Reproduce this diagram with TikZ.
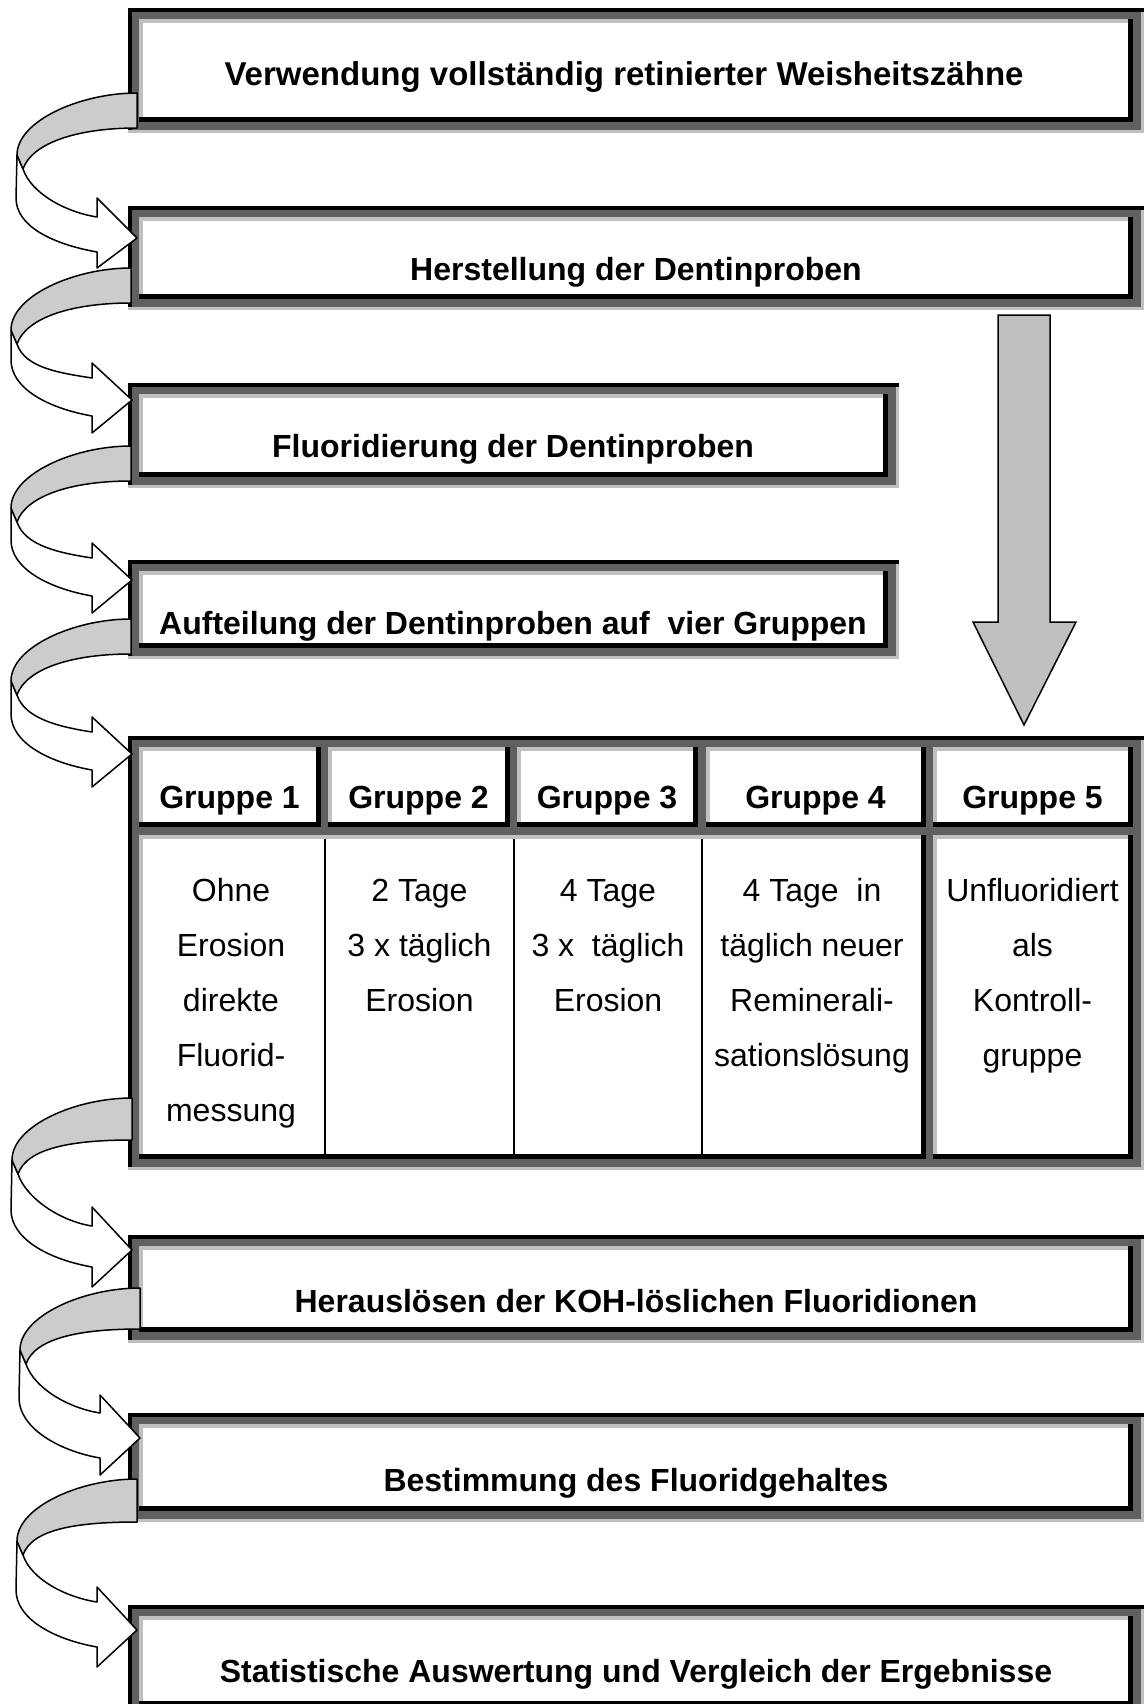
\documentclass[tikz,border=0pt]{standalone}
\usepackage{fontspec}
\setmainfont{Liberation Sans}
\usetikzlibrary{calc}
\definecolor{dg}{HTML}{606060}
\definecolor{lg}{HTML}{C0C0C0}
\definecolor{bandg}{HTML}{CCCCCC}
\definecolor{bigg}{HTML}{C0C0C0}
% 3D cell: light gray top/left, black bottom/right, white inside
\newcommand\tdcell[2]{%
  \fill[black] (#1) rectangle (#2);
  \fill[lg] (#1) rectangle ($(#2)+(-5,-5)$);
  \fill[white] ($(#1)+(4,4)$) rectangle ($(#2)+(-5,-5)$);
}
% outer 3D frame of a node
\newcommand\tdframe[1]{%
  \fill[lg] (#1.north west) rectangle (#1.south east);
  \fill[dg] (#1.north west) rectangle ($(#1.south east)+(-3,-3)$);
  \fill[black] (#1.north west) rectangle ($(#1.north east)+(0,4)$);
  \fill[black] (#1.north west) rectangle ($(#1.south west)+(4,-3)$);
}
\newcommand\tdbox[1]{%
  \tdframe{#1}
  \coordinate (#1-a) at ($(#1.north west)+(11,11)$);
  \coordinate (#1-b) at ($(#1.south east)+(-11,-11)$);
  \tdcell{#1-a}{#1-b}
}
% curved right block arrow: #1 start (gray top right), #2 tip, #3 band, #4/#5 barbs, #6/#7 shaft
\newcommand\curvarrow[7]{%
  \filldraw[frontw] ($(#2)+(-121,-40)$) -- ($(#1)+(-120,62)$) -- ($(#1)+(-114,76)$)
    .. controls ($(#1)+(-106,100)$) and ($(#2)+(-72,{-#6-5})$) .. ($(#2)+(-40,-#6)$)
    -- ($(#2)+(-40,-#4)$) -- (#2) -- ($(#2)+(-40,#5)$) -- ($(#2)+(-40,#7)$)
    .. controls ($(#2)+(-85,{#7-8})$) and ($(#2)+(-121,-12)$) .. ($(#2)+(-121,-40)$) -- cycle;
  \filldraw[backg] (#1) .. controls ($(#1)+(-57,0)$) and ($(#1)+(-120,28)$) .. ($(#1)+(-120,62)$)
    -- ($(#1)+(-114,76)$) .. controls ($(#1)+(-105,50)$) and ($(#1)+(-60,#3)$) .. ($(#1)+(0,#3)$) -- cycle;
}
\newcommand\cellines[3]{%
  \foreach \txt [count=\i] in {#3} {\node[bt] (#1-\i) at (#2,{901+55*(\i-1)}) {\txt};}
}
\begin{document}
\begin{tikzpicture}[x=1pt,y=-1pt,
  frame/.style={rectangle,inner sep=0pt,outer sep=0pt,anchor=north west},
  lbl/.style={font=\fontsize{32}{38}\selectfont\bfseries,anchor=base,inner sep=0pt},
  ttl/.style={font=\fontsize{33}{39}\selectfont\bfseries,anchor=base,inner sep=0pt},
  bt/.style={font=\fontsize{32}{38}\selectfont,anchor=base,inner sep=0pt},
  frontw/.style={fill=white,draw=black,line width=1.5pt,line join=round},
  backg/.style={fill=bandg,draw=black,line width=1.5pt,line join=round},
  bigarrow/.style={fill=bigg,draw=black,line width=1.5pt,line join=miter}]
\useasboundingbox (0,0) rectangle (1144,1704);
\clip (0,0) rectangle (1144,1704);
\fill[white] (0,0) rectangle (1144,1704);

% boxes
\node[frame,minimum width=1016pt,minimum height=125pt] (b1) at (128,8) {};
\node[frame,minimum width=1016pt,minimum height=104pt] (b2) at (128,206) {};
\node[frame,minimum width=771pt,minimum height=105pt] (b3) at (128,383) {};
\node[frame,minimum width=771pt,minimum height=99pt] (b4) at (128,560) {};
\node[frame,minimum width=1016pt,minimum height=434pt] (tab) at (128,736) {};
\node[frame,minimum width=1016pt,minimum height=108pt] (b5) at (128,1235) {};
\node[frame,minimum width=1016pt,minimum height=109pt] (b6) at (128,1413) {};
\node[frame,minimum width=1016pt,minimum height=112pt] (b7) at (128,1605) {};

\tdbox{b1}
\tdbox{b2}
\tdbox{b3}
\tdbox{b4}
\tdbox{b5}
\tdbox{b6}
\tdbox{b7}

% table
\tdframe{tab}
\coordinate (h1a) at (139,747); \coordinate (h1b) at (321,827);
\coordinate (h2a) at (328,747); \coordinate (h2b) at (510,827);
\coordinate (h3a) at (517,747); \coordinate (h3b) at (698,827);
\coordinate (h4a) at (706,747); \coordinate (h4b) at (926,827);
\coordinate (h5a) at (933,747); \coordinate (h5b) at (1133,827);
\coordinate (r1a) at (139,835); \coordinate (r1b) at (926,1159);
\coordinate (r5a) at (933,835); \coordinate (r5b) at (1133,1159);
\tdcell{h1a}{h1b}
\tdcell{h2a}{h2b}
\tdcell{h3a}{h3b}
\tdcell{h4a}{h4b}
\tdcell{h5a}{h5b}
\tdcell{r1a}{r1b}
\tdcell{r5a}{r5b}
\foreach \xx in {325,514,702} {\draw[line width=2pt] (\xx,839) -- (\xx,1154);}

% box texts
\node[ttl] (t1) at (624,86) {Verwendung vollständig retinierter Weisheitszähne};
\node[lbl] (t2) at (636,280) {Herstellung der Dentinproben};
\node[lbl] (t3) at (513,457) {Fluoridierung der Dentinproben};
\node[lbl] (t4) at (513,634) {Aufteilung der Dentinproben auf~ vier Gruppen};
\node[lbl] (t5) at (636,1312) {Herauslösen der KOH-löslichen Fluoridionen};
\node[lbl] (t6) at (636,1491) {Bestimmung des Fluoridgehaltes};
\node[lbl] (t7) at (636,1682) {Statistische Auswertung und Vergleich der Ergebnisse};

% table texts
\node[lbl] (g1) at (229.5,808) {Gruppe 1};
\node[lbl] (g2) at (418.5,808) {Gruppe 2};
\node[lbl] (g3) at (607,808) {Gruppe 3};
\node[lbl] (g4) at (815.5,808) {Gruppe 4};
\node[lbl] (g5) at (1032.5,808) {Gruppe 5};
\cellines{c1}{231}{Ohne,Erosion,direkte,Fluorid-,messung}
\cellines{c2}{419.5}{2 Tage,3 x täglich,Erosion}
\cellines{c3}{608}{4 Tage,3 x~ täglich,Erosion}
\cellines{c4}{812}{4 Tage~ in,täglich neuer,Reminerali-,sationslösung}
\cellines{c5}{1032.5}{Unfluoridiert,als,Kontroll-,gruppe}

% big straight arrow
\coordinate (bs) at ($(b2.south east)+(-120,5)$);
\coordinate (be) at ($(tab.north east)+(-120,-11)$);
\filldraw[bigarrow] ($(bs)+(-26,0)$) -- ($(bs)+(26,0)$) -- ($(be)+(26,-103)$) -- ($(be)+(52,-103)$)
  -- (be) -- ($(be)+(-51,-103)$) -- ($(be)+(-26,-103)$) -- cycle;

% curved arrows
\coordinate (a1s) at ($(b1.south west)+(9,-40)$);
\coordinate (a1e) at ($(b2.north west)+(9,32)$);
\curvarrow{a1s}{a1e}{35}{40}{30}{21}{14}
\coordinate (a2s) at ($(b2.south west)+(3,-42)$);
\coordinate (a2e) at ($(b3.north west)+(4,17)$);
\curvarrow{a2s}{a2e}{35}{37}{33}{22}{16}
\coordinate (a3s) at ($(b3.south west)+(3,-42)$);
\coordinate (a3e) at ($(b4.north west)+(4,20)$);
\curvarrow{a3s}{a3e}{35}{37}{33}{22}{16}
\coordinate (a4s) at ($(b4.south west)+(3,-40)$);
\coordinate (a4e) at ($(tab.north west)+(4,18)$);
\curvarrow{a4s}{a4e}{35}{37}{33}{22}{16}
\coordinate (a5s) at ($(tab.south west)+(4,-72)$);
\coordinate (a5e) at ($(b5.north west)+(4,15)$);
\curvarrow{a5s}{a5e}{42}{43}{37}{24}{17}
\coordinate (a6s) at ($(b5.south west)+(12,-55)$);
\coordinate (a6e) at ($(b6.north west)+(12,25)$);
\curvarrow{a6s}{a6e}{41}{43}{37}{25}{20}
\coordinate (a7s) at ($(b6.south west)+(9,-43)$);
\coordinate (a7e) at ($(b7.north west)+(9,25)$);
\curvarrow{a7s}{a7e}{43}{43}{37}{28}{17}
\end{tikzpicture}
\end{document}
